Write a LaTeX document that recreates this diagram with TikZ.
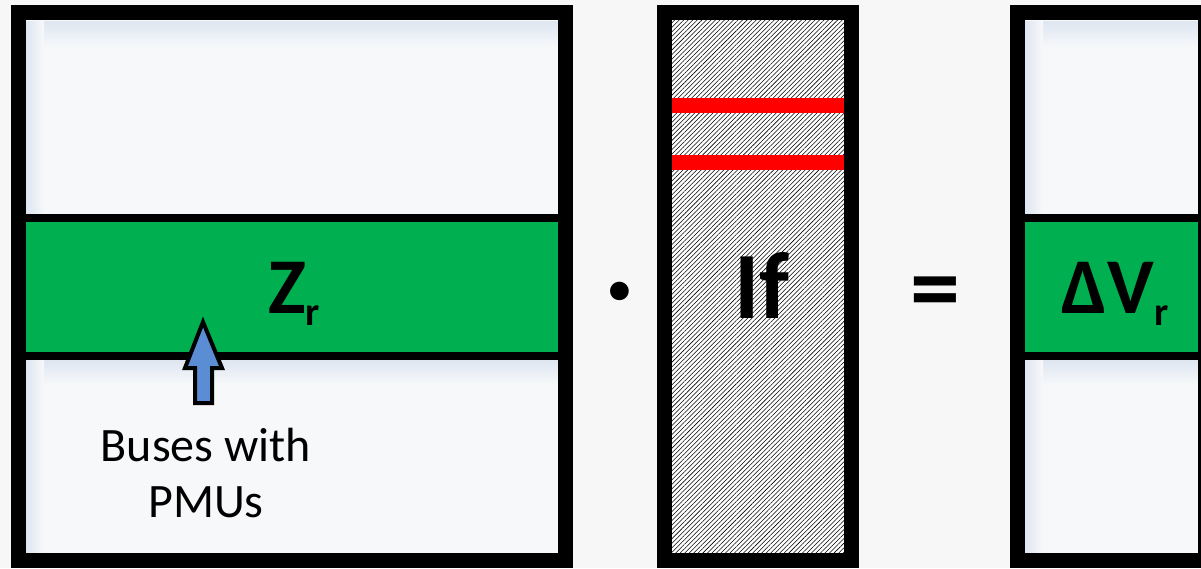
\documentclass[tikz,border=0pt]{standalone}
\usepackage{fontspec}
\setmainfont{Carlito}
\usetikzlibrary{patterns.meta}
\definecolor{bg}{RGB}{247,247,247}
\definecolor{cellfill}{RGB}{247,248,250}
\definecolor{glow}{RGB}{222,230,241}
\definecolor{bandgreen}{RGB}{0,176,80}
\definecolor{arrowblue}{RGB}{91,141,212}
\definecolor{rowred}{RGB}{255,0,0}
\begin{document}
\begin{tikzpicture}[x=1pt,y=-1pt,
  frame/.style={draw=black,line width=15pt},
  bandline/.style={draw=black,line width=8pt},
  cell/.style={fill=cellfill},
  band/.style={fill=bandgreen},
  topglow/.style={top color=glow,bottom color=cellfill,draw=none},
  leftglow/.style={left color=glow,right color=cellfill,draw=none},
  redrow/.style={draw=rowred,line width=15pt},
  biglabel/.style={font=\bfseries\fontsize{79}{79}\selectfont,inner sep=0pt,anchor=base},
  oplabel/.style={font=\bfseries\fontsize{100}{100}\selectfont,inner sep=0pt},
  note/.style={font=\fontsize{48}{56}\selectfont,align=center,inner sep=0pt,anchor=base},
  blockarrow/.style={draw=black,line width=4pt,fill=arrowblue,line join=miter}
]
\fill[bg] (0,0) rectangle (1201,568);
\useasboundingbox (0,0) rectangle (1201,568);

% left matrix Z
\fill[cell] (18.5,12.5) rectangle (565.5,560.5);
\shade[topglow] (26,21) rectangle (558,48);
\shade[leftglow] (26,21) rectangle (44,214);
\shade[topglow] (26,360) rectangle (558,385);
\shade[leftglow] (26,360) rectangle (44,553);
\fill[band] (18.5,218) rectangle (565.5,356);
\draw[bandline] (18.5,218) -- (565.5,218);
\draw[bandline] (18.5,356) -- (565.5,356);
\draw[frame] (18.5,12.5) rectangle (565.5,560.5);

% middle vector If
\fill[white] (664,12.5) rectangle (851.5,560.5);
\fill[pattern={Lines[angle=45,distance=3.2pt,line width=0.55pt]}] (664,12.5) rectangle (851.5,560.5);
\draw[redrow] (664,105.5) -- (851.5,105.5);
\draw[redrow] (664,162) -- (851.5,162);
\draw[frame] (664,12.5) rectangle (851.5,560.5);

% right vector dV
\fill[cell] (1017.5,12.5) rectangle (1205.5,560.5);
\shade[topglow] (1025,21) rectangle (1198,48);
\shade[leftglow] (1025,21) rectangle (1043,214);
\shade[topglow] (1025,360) rectangle (1198,385);
\shade[leftglow] (1025,360) rectangle (1043,553);
\fill[band] (1017.5,218) rectangle (1205.5,356);
\draw[bandline] (1017.5,218) -- (1205.5,218);
\draw[bandline] (1017.5,356) -- (1205.5,356);
\draw[frame] (1017.5,12.5) rectangle (1205.5,560.5);

% labels
\node[biglabel] (zr) at (294,313) {Z\raisebox{-12pt}{\fontsize{40}{40}\selectfont r}};
\node[font=\bfseries\fontsize{95}{95}\selectfont,inner sep=0pt,anchor=base] (if) at (762,318) {If};
\node[biglabel] (dvr) at (1115,313) {ΔV\raisebox{-12pt}{\fontsize{40}{40}\selectfont r}};
\node[oplabel] (dot) at (620,301) {·};
\node[oplabel] (eq) at (935.5,299) {=};

% arrow and note
\draw[blockarrow] (203,322) -- (222,368) -- (212,368) -- (212,403) -- (195,403) -- (195,368) -- (185,368) -- cycle;
\node[note] (buses) at (206,517) {Buses with\\PMUs};
\end{tikzpicture}
\end{document}
